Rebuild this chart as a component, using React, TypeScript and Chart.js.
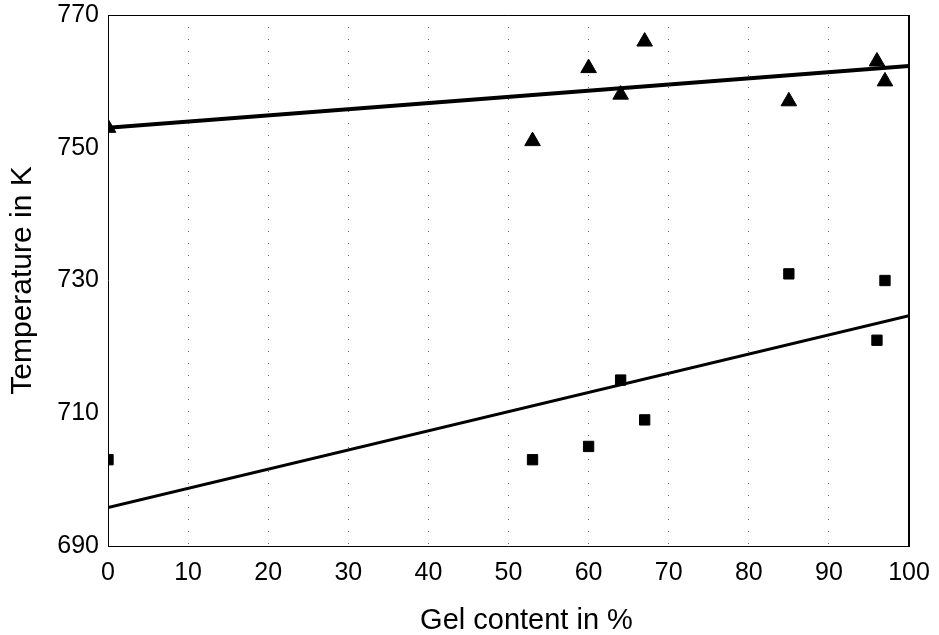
import React, { useEffect, useRef } from "react";
import { Chart, registerables } from "chart.js";

Chart.register(...registerables);

const gelTriangles = [0, 53, 60, 64, 67, 85, 96, 97];
const tempTriangles = [753, 751, 762, 758, 766, 757, 763, 760];
const gelSquares = [0, 53, 60, 64, 67, 85, 96, 97];
const tempSquares = [703, 703, 705, 715, 709, 731, 721, 730];
const trendX = [0, 100];
const trendUpper = [753, 762.3];
const trendLower = [695.8, 724.7];
const xTitle = "Gel content in %";
const yTitle = "Temperature in K";

const FONT = '"Liberation Sans", Arial, Helvetica, sans-serif';

const framePlugin = {
  id: "frameAndTitles",
  afterDraw(chart: any) {
    const { ctx, chartArea } = chart;
    const { left, top, right, bottom } = chartArea;
    ctx.save();
    ctx.strokeStyle = "#000";
    ctx.lineWidth = 1;
    ctx.beginPath();
    ctx.moveTo(left + 0.5, top + 0.5);
    ctx.lineTo(right, top + 0.5);
    ctx.moveTo(left + 0.5, top);
    ctx.lineTo(left + 0.5, bottom);
    ctx.moveTo(left, bottom + 0.5);
    ctx.lineTo(right, bottom + 0.5);
    ctx.stroke();
    ctx.lineWidth = 2;
    ctx.beginPath();
    ctx.moveTo(right, top);
    ctx.lineTo(right, bottom + 1);
    ctx.stroke();

    ctx.fillStyle = "#000";
    ctx.font = `29px ${FONT}`;
    ctx.textAlign = "center";
    ctx.textBaseline = "alphabetic";
    ctx.fillText(xTitle, (left + right) / 2 + 18, 629);

    ctx.translate(23, (top + bottom) / 2);
    ctx.rotate(-Math.PI / 2);
    ctx.font = `30px ${FONT}`;
    ctx.textBaseline = "middle";
    ctx.fillText(yTitle, 0, 0);
    ctx.restore();
  },
};

export default function App() {
  const ref = useRef<HTMLCanvasElement | null>(null);
  useEffect(() => {
    if (!ref.current) return;
    const chart = new Chart(ref.current, {
      type: "scatter",
      data: {
        datasets: [
          {
            label: "upper trend",
            data: trendX.map((x, i) => ({ x, y: trendUpper[i] })),
            showLine: true,
            borderColor: "#000",
            borderWidth: 4,
            pointRadius: 0,
            fill: false,
          },
          {
            label: "lower trend",
            data: trendX.map((x, i) => ({ x, y: trendLower[i] })),
            showLine: true,
            borderColor: "#000",
            borderWidth: 3,
            pointRadius: 0,
            fill: false,
          },
          {
            label: "triangles",
            data: gelTriangles.map((x, i) => ({ x, y: tempTriangles[i] })),
            pointStyle: "triangle",
            pointRadius: 9,
            pointBackgroundColor: "#000",
            pointBorderColor: "#000",
            pointBorderWidth: 1,
          },
          {
            label: "squares",
            data: gelSquares.map((x, i) => ({ x, y: tempSquares[i] })),
            pointStyle: "rect",
            pointRadius: 7.3,
            pointBackgroundColor: "#000",
            pointBorderColor: "#000",
            pointBorderWidth: 1,
          },
        ],
      },
      options: {
        animation: false,
        responsive: true,
        maintainAspectRatio: false,
        layout: { padding: { top: 15, right: 30, left: 0, bottom: 0 } },
        plugins: {
          legend: { display: false },
          tooltip: { enabled: false },
        },
        scales: {
          x: {
            type: "linear",
            min: 0,
            max: 100,
            ticks: {
              stepSize: 10,
              color: "#000",
              font: { family: FONT, size: 25 },
              padding: 12,
              maxRotation: 0,
            },
            grid: {
              color: "#666",
              lineWidth: 1,
              drawTicks: false,
            },
            border: { display: false, dash: [1, 11] },
            afterFit(scale: any) {
              scale.height = 89;
              scale.paddingLeft = 0;
              scale.paddingRight = 0;
            },
          },
          y: {
            type: "linear",
            min: 690,
            max: 770,
            ticks: {
              stepSize: 20,
              color: "#000",
              font: { family: FONT, size: 25 },
              padding: 9,
            },
            grid: { display: false, drawTicks: false },
            border: { display: false },
            afterFit(scale: any) {
              scale.width = 108;
              scale.paddingTop = 0;
              scale.paddingBottom = 0;
            },
          },
        },
      },
      plugins: [framePlugin],
    });
    return () => chart.destroy();
  }, []);
  return (
    <div style={{ position: "fixed", left: 0, top: 0, width: 939, height: 635, background: "#fff" }}>
      <canvas ref={ref} />
    </div>
  );
}
